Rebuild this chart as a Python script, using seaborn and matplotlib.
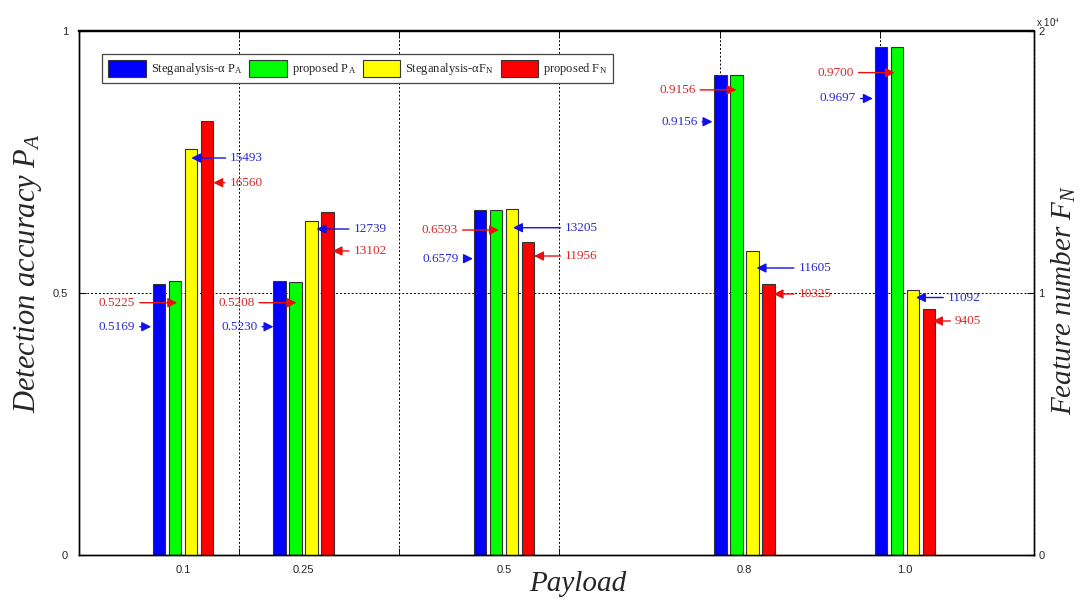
import numpy as np
import pandas as pd
import matplotlib
matplotlib.use("Agg")
import matplotlib.pyplot as plt
from matplotlib.patches import Patch
from matplotlib.transforms import offset_copy
import seaborn as sns

# ---------------- data ----------------
payload = [0.1, 0.25, 0.5, 0.8, 1.0]
payload_labels = ["0.1", "0.25", "0.5", "0.8", "1.0"]
steg_pa = [0.5169, 0.5230, 0.6579, 0.9156, 0.9697]
prop_pa = [0.5225, 0.5208, 0.6593, 0.9156, 0.9700]
steg_fn = [15493, 12739, 13205, 11605, 10100]
prop_fn = [16560, 13102, 11956, 10325, 9405]
steg_fn_labels = ["15493", "12739", "13205", "11605", "11092"]
prop_fn_labels = ["16560", "13102", "11956", "10325", "9405"]
series = [r"Steganalysis-α P$_\mathrm{A}$", r"proposed P$_\mathrm{A}$",
          r"Steganalysis-αF$_\mathrm{N}$", r"proposed F$_\mathrm{N}$"]
colors = ["#0000ff", "#00ff00", "#ffff00", "#ff0000"]
y_left_ticks = [0, 0.5, 1]
y_right_ticks = [0, 10000, 20000]
y_right_ticklabels = ["0", "1", "2"]

# ---------------- style ----------------
sns.set_style("white")
plt.rcParams["font.family"] = ["Liberation Serif", "DejaVu Serif"]
plt.rcParams["mathtext.fontset"] = "custom"
plt.rcParams["mathtext.rm"] = "Liberation Serif"
plt.rcParams["mathtext.it"] = "Liberation Serif:italic"
plt.rcParams["mathtext.bf"] = "Liberation Serif:bold"

palette = dict(zip(series, colors))
bar_width = 0.5333
bar_gap = 0.23
native_w = min(np.diff(sorted(payload)))
slot = bar_width * native_w / len(series)

df_pa = pd.DataFrame({
    "payload": payload * 2,
    "value": steg_pa + prop_pa,
    "series": [series[0]] * len(payload) + [series[1]] * len(payload),
})
df_fn = pd.DataFrame({
    "payload": payload * 2,
    "value": steg_fn + prop_fn,
    "series": [series[2]] * len(payload) + [series[3]] * len(payload),
})

fig = plt.figure(figsize=(10.89, 6.06), dpi=100)
ax = fig.add_axes([79 / 1089, 51 / 606, 955 / 1089, 524 / 606])
ax2 = ax.twinx()

common = dict(x="payload", y="value", hue="series", hue_order=series,
              palette=palette, native_scale=True, width=bar_width, gap=bar_gap,
              saturation=1, edgecolor="#333333", linewidth=0.8,
              errorbar=None, legend=False, orient="x")
sns.barplot(data=df_pa, ax=ax, **common)
sns.barplot(data=df_fn, ax=ax2, **common)

ax.set_xlim(-0.03, 1.161)
ax.set_ylim(0, 1)
ax2.set_ylim(0, 20000)

# ticks
grid_x = [0.169, 0.369, 0.569, 0.769, 0.969]
ax.set_xticks(payload)
ax.set_xticklabels(payload_labels, family="Liberation Sans", fontsize=8)
ax.set_xticks(grid_x, minor=True)
ax.set_yticks(y_left_ticks)
ax.set_yticklabels(["0", "0.5", "1"], family="Liberation Sans", fontsize=8)
ax2.set_yticks(y_right_ticks)
ax2.set_yticklabels(y_right_ticklabels, family="Liberation Sans", fontsize=8)
ax.tick_params(axis="x", which="major", length=0, pad=7)
ax.tick_params(axis="x", which="minor", direction="in", length=5, top=True,
               bottom=True, color="k")
ax.tick_params(axis="y", direction="in", length=5, pad=8, left=True, color="k")
ax2.tick_params(axis="y", direction="in", length=5, pad=3, right=True, color="k")

ax.grid(which="minor", axis="x", color="k", linestyle=(0, (2, 2)), linewidth=0.7)
ax.grid(which="major", axis="y", color="k", linestyle=(0, (2, 2)), linewidth=0.7)
ax.grid(which="major", axis="x", visible=False)
ax.set_axisbelow(True)

for a in (ax, ax2):
    for sp in a.spines.values():
        sp.set_color("k")
        sp.set_linewidth(1.0)
    a.spines["top"].set_linewidth(1.6)
ax2.spines["right"].set_linestyle((0, (1.5, 1.5)))

# labels
ax.set_xlabel("Payload", fontsize=21, fontstyle="italic")
ax.xaxis.set_label_coords(0.5225, -0.03)
ax.set_ylabel(r"Detection accuracy $P_A$", fontsize=22, fontstyle="italic")
ax.yaxis.set_label_coords(-0.037, 0.538)
ax2.set_ylabel(r"Feature number $F_N$", fontsize=21, fontstyle="italic")
ax2.yaxis.set_label_coords(1.017, 0.487)
ax2.text(1.002, 1.004, r"x 10$^{4}$", transform=ax2.transAxes, fontsize=7,
         family="Liberation Sans", ha="left", va="bottom")

# legend
handles = [Patch(facecolor=c, edgecolor="#333333", linewidth=0.8) for c in colors]
leg = ax2.legend(handles, series, loc="upper left", bbox_to_anchor=(0.0246, 0.956),
                 ncol=4, frameon=True, fancybox=False, framealpha=1,
                 edgecolor="#444444", fontsize=9, handlelength=3.0,
                 handleheight=1.7, handletextpad=0.4, columnspacing=0.55,
                 borderpad=0.45, borderaxespad=0)
leg.get_frame().set_linewidth(0.9)

# annotations: (group, series, tip dx px, tip y in left-axis units, text dx px)
ann_layout = [
    (0, 2, 0, 0.7576, 39), (0, 3, 6, 0.7105, 16), (0, 1, 2, 0.4815, -42), (0, 0, -8, 0.4357, -16),
    (1, 2, 5, 0.6221, 37), (1, 3, 5, 0.5802, 21), (1, 1, 1, 0.4815, -42), (1, 0, -6, 0.4357, -16),
    (2, 2, 1, 0.6246, 52), (2, 3, 6, 0.5706, 31), (2, 1, 3, 0.6202, -41), (2, 0, -7, 0.5655, -14),
    (3, 2, 4, 0.5477, 42), (3, 3, 5, 0.4981, 25), (3, 1, 0, 0.8876, -41), (3, 0, -8, 0.8269, -15),
    (4, 2, 3, 0.4914, 32), (4, 3, 4, 0.4466, 22), (4, 1, -2, 0.9206, -41), (4, 0, -8, 0.8712, -17),
]
text_colors = {0: "#2a2ad0", 1: "#d42a2a", 2: "#2a2ad0", 3: "#d42a2a"}
arrow_colors = {0: "#1010e8", 1: "#e81010", 2: "#1010e8", 3: "#e81010"}

def label_for(g, s):
    if s == 0:
        return f"{steg_pa[g]:.4f}"
    if s == 1:
        return f"{prop_pa[g]:.4f}"
    if s == 2:
        return steg_fn_labels[g]
    return prop_fn_labels[g]

for g, s, tdx, ty, txd in ann_layout:
    xc = payload[g] + (s - (len(series) - 1) / 2) * slot
    trans = offset_copy(ax.transData, fig=fig, x=tdx, y=0, units="dots")
    ax2.annotate(label_for(g, s), xy=(xc, ty), xycoords=trans,
                 xytext=(txd, 0), textcoords="offset pixels",
                 ha="left" if txd > 0 else "right", va="center",
                 fontsize=9.5, color=text_colors[s],
                 arrowprops=dict(arrowstyle="-|>", color=arrow_colors[s],
                                 lw=1.0, mutation_scale=14, shrinkA=1, shrinkB=0))

fig.savefig("out.png", dpi=100)
